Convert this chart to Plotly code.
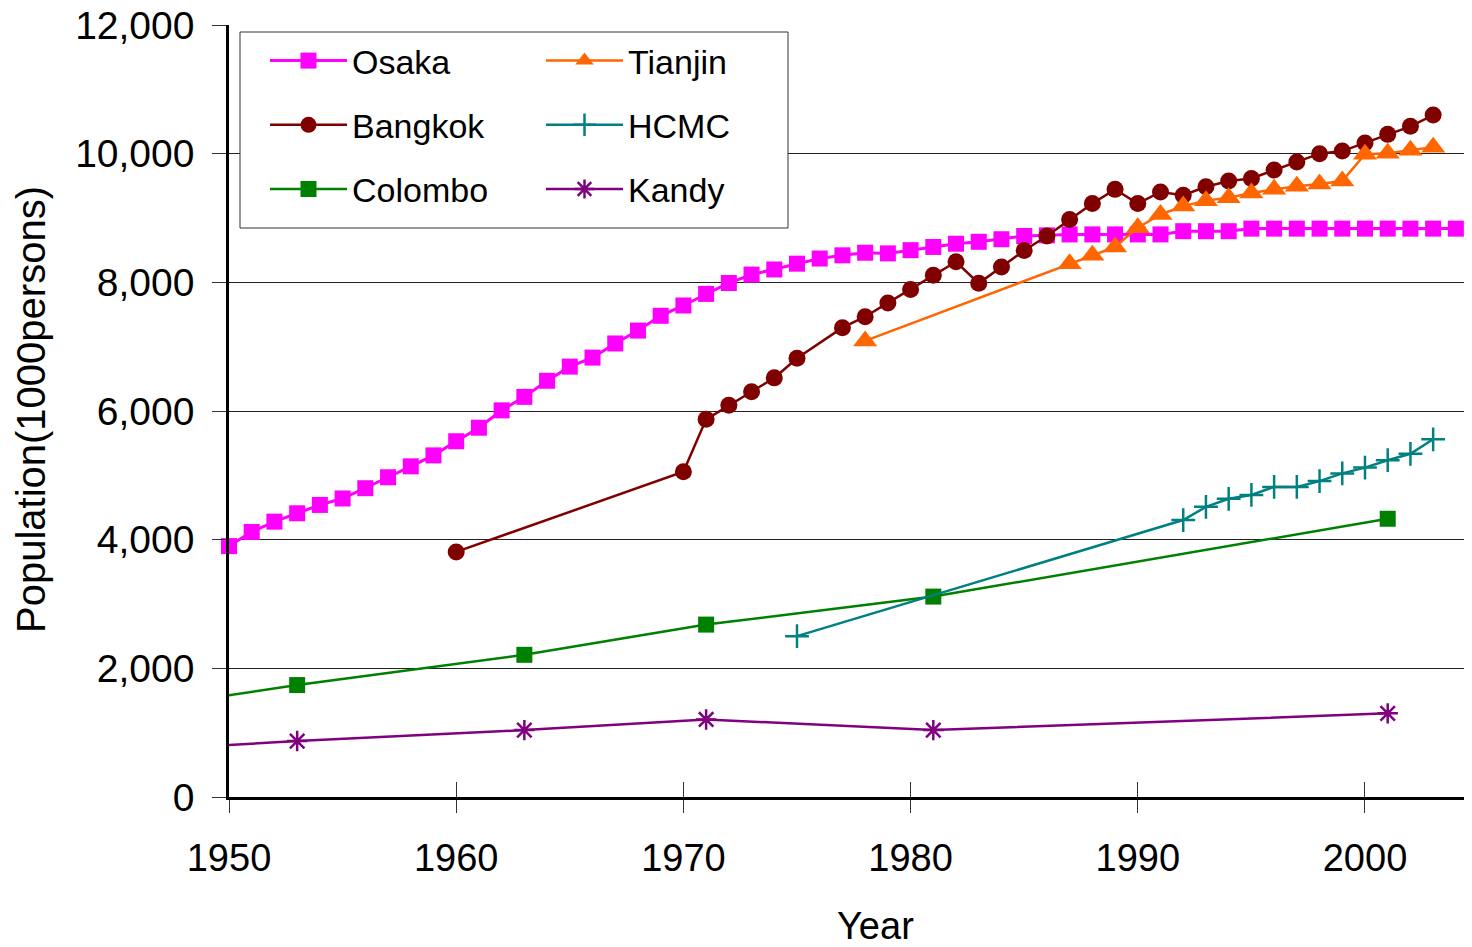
import plotly.graph_objects as go

# ---------------- data ----------------
osaka_years = [1950, 1951, 1952, 1953, 1954, 1955, 1956, 1957, 1958, 1959,
               1960, 1961, 1962, 1963, 1964, 1965, 1966, 1967, 1968, 1969,
               1970, 1971, 1972, 1973, 1974, 1975, 1976, 1977, 1978, 1979,
               1980, 1981, 1982, 1983, 1984, 1985, 1986, 1987, 1988, 1989,
               1990, 1991, 1992, 1993, 1994, 1995, 1996, 1997, 1998, 1999,
               2000, 2001, 2002, 2003, 2004]
osaka_pop = [3900, 4120, 4280, 4410, 4540, 4640, 4800, 4970, 5140, 5310,
             5530, 5740, 6010, 6220, 6470, 6690, 6830, 7050, 7250, 7480,
             7640, 7820, 7990, 8120, 8200, 8290, 8370, 8420, 8460, 8450,
             8500, 8550, 8600, 8630, 8670, 8720, 8730, 8745, 8745, 8745,
             8745, 8745, 8795, 8795, 8795, 8835, 8835, 8835, 8835, 8835,
             8835, 8835, 8835, 8835, 8835]

bangkok_years = [1960, 1970, 1971, 1972, 1973, 1974, 1975, 1977, 1978, 1979,
                 1980, 1981, 1982, 1983, 1984, 1985, 1986, 1987, 1988, 1989,
                 1990, 1991, 1992, 1993, 1994, 1995, 1996, 1997, 1998, 1999,
                 2000, 2001, 2002, 2003]
bangkok_pop = [3810, 5055, 5870, 6090, 6300, 6515, 6820, 7295, 7465, 7680,
               7890, 8110, 8320, 7985, 8240, 8495, 8720, 8975, 9225, 9445,
               9225, 9405, 9355, 9485, 9575, 9615, 9745, 9870, 10000, 10040,
               10165, 10300, 10425, 10600]

tianjin_years = [1978, 1987, 1988, 1989, 1990, 1991, 1992, 1993, 1994, 1995,
                 1996, 1997, 1998, 1999, 2000, 2001, 2002, 2003]
tianjin_pop = [7090, 8290, 8420, 8550, 8850, 9055, 9185, 9270, 9315, 9390,
               9445, 9495, 9530, 9575, 9990, 10005, 10055, 10100]

hcmc_years = [1975, 1992, 1993, 1994, 1995, 1996, 1997, 1998, 1999, 2000,
              2001, 2002, 2003]
hcmc_pop = [2500, 4305, 4510, 4635, 4695, 4820, 4820, 4910, 5030, 5120,
            5235, 5335, 5560]

colombo_years = [1946, 1953, 1963, 1971, 1981, 2001]
colombo_pop = [1370, 1740, 2210, 2680, 3115, 4325]

kandy_years = [1946, 1953, 1963, 1971, 1981, 2001]
kandy_pop = [725, 870, 1040, 1205, 1040, 1300]

x_tick_vals = [1950, 1960, 1970, 1980, 1990, 2000]
y_tick_vals = [0, 2000, 4000, 6000, 8000, 10000, 12000]

FONT = "Liberation Sans, Arial, sans-serif"

fig = go.Figure()

def add(name, xs, ys, color, symbol, size, legend, lw=2.5, clip=True, mlw=0):
    fig.add_trace(go.Scatter(
        x=xs, y=ys, name=name, mode="lines+markers",
        line=dict(color=color, width=lw),
        marker=dict(symbol=symbol, size=size, color=color,
                    line=dict(color=color, width=mlw)),
        cliponaxis=clip, legend=legend, legendgroup=name,
    ))

add("Osaka", osaka_years, osaka_pop, "#FF00FF", "square", 16, "legend", lw=3, clip=False)
add("Bangkok", bangkok_years, bangkok_pop, "#800000", "circle", 17, "legend", clip=False)
add("Colombo", colombo_years, colombo_pop, "#008000", "square", 16, "legend")
add("Tianjin", tianjin_years, tianjin_pop, "#FF6600", "triangle-up", 21, "legend2", clip=False)
add("HCMC", hcmc_years, hcmc_pop, "#008080", "cross-thin-open", 17, "legend2", clip=False, mlw=2.5)
add("Kandy", kandy_years, kandy_pop, "#800080", "asterisk-open", 17, "legend2", mlw=2.5)

# invisible trace to carry the upper half of the crossing x ticks
fig.add_trace(go.Scatter(x=[], y=[], xaxis="x2", showlegend=False, hoverinfo="skip"))

# page offset caused by the default body margin of the html page
OFF = 8
W, H = 1472 - OFF, 947 - OFF
# plot area in page pixels: x 229..1472, y 25..797
ML, MR, MT = 229 - OFF, 0, 25 - OFF
MB = H - (797 - OFF)
PW = W - ML - MR
PH = H - MT - MB

def px_x(p):  # page pixel -> paper x
    return (p - OFF - ML) / PW

def px_y(p):  # page pixel -> paper y
    return (H - MB - (p - OFF)) / PH

fig.update_layout(
    width=W, height=H,
    margin=dict(l=ML, r=MR, t=MT, b=MB, pad=0, autoexpand=False),
    paper_bgcolor="white", plot_bgcolor="white",
    font=dict(family=FONT, color="black", size=34),
    xaxis=dict(
        range=[1950, 2004.71], tickvals=x_tick_vals, automargin=False,
        ticks="outside", ticklen=13, tickwidth=1, tickcolor="#333",
        showline=True, linecolor="black", linewidth=3,
        showgrid=False, zeroline=False,
        tickfont=dict(family=FONT, size=38, color="black"),
        ticklabelstandoff=12, ticklabeloverflow="allow",
    ),
    xaxis2=dict(
        range=[1950, 2004.71], tickvals=x_tick_vals, overlaying="x", anchor="y",
        side="bottom", ticks="inside", ticklen=15, tickwidth=1, tickcolor="#333",
        showticklabels=False, showgrid=False, zeroline=False, showline=False,
        automargin=False,
    ),
    yaxis=dict(
        range=[0, 12000], tickvals=y_tick_vals, tickformat=",d", automargin=False,
        ticks="outside", ticklen=14, tickwidth=1, tickcolor="#333",
        showline=True, linecolor="black", linewidth=2.5,
        showgrid=True, gridcolor="#222", gridwidth=1, zeroline=False,
        tickfont=dict(family=FONT, size=39, color="black"),
        ticklabelstandoff=10, ticklabeloverflow="allow",
    ),
    legend=dict(
        x=px_x(265), y=px_y(32), xanchor="left", yanchor="top",
        bgcolor="rgba(0,0,0,0)", borderwidth=0,
        font=dict(family=FONT, size=34, color="black"),
        itemwidth=77, traceorder="grouped", tracegroupgap=17,
    ),
    legend2=dict(
        x=px_x(541), y=px_y(32), xanchor="left", yanchor="top",
        bgcolor="rgba(0,0,0,0)", borderwidth=0,
        font=dict(family=FONT, size=34, color="black"),
        itemwidth=77, traceorder="grouped", tracegroupgap=17,
    ),
    shapes=[dict(
        type="rect", xref="paper", yref="paper", layer="above",
        x0=px_x(240), x1=px_x(788), y0=px_y(228), y1=px_y(32),
        fillcolor="white", line=dict(color="#333", width=1),
    )],
    annotations=[
        dict(text="Year", xref="paper", yref="paper", showarrow=False,
             x=px_x(875), y=px_y(926), xanchor="center", yanchor="middle",
             font=dict(family=FONT, size=38, color="black")),
        dict(text="Population(1000persons)", xref="paper", yref="paper",
             showarrow=False, textangle=-90,
             x=px_x(31), y=px_y(410), xanchor="center", yanchor="middle",
             font=dict(family=FONT, size=40, color="black")),
    ],
    showlegend=True,
)

fig.write_html("out.html")
